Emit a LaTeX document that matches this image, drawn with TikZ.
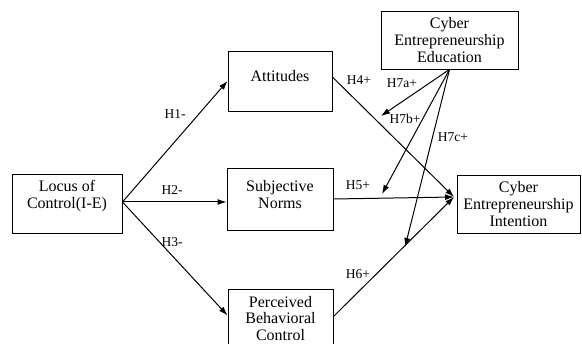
\documentclass[tikz,border=0pt]{standalone}
\usepackage{fontspec}
\setmainfont{Liberation Serif}
\usetikzlibrary{arrows.meta}

\tikzset{
  construct/.style={draw, line width=0.9pt, align=center, inner sep=2pt,
    font=\fontsize{16}{16.8}\selectfont},
  hyp/.style={font=\fontsize{13.5}{15}\selectfont, inner sep=0pt},
  link/.style={line width=1pt, -{Latex[length=9pt,width=6pt]}}
}

\begin{document}
\begin{tikzpicture}[x=1pt, y=-1pt]
    % canvas
    \clip (0,0) rectangle (582,344);
    % constructs
    \node[construct, minimum width=110pt, minimum height=59pt, text depth=20pt] (loc) at (67,204)
    {Locus of\\Control(I-E)};
    \node[construct, minimum width=104pt, minimum height=60pt, text depth=11pt] (att) at (280,81)
    {Attitudes};
    \node[construct, minimum width=106pt, minimum height=62pt, text depth=9pt] (sn) at (280,199)
    {Subjective\\Norms};
    \node[construct, minimum width=105pt, minimum height=59pt] (pbc) at (280.5,318.5)
    {Perceived\\Behavioral\\Control};
    \node[construct, minimum width=137pt, minimum height=58pt] (cee) at (449.5,40)
    {Cyber\\Entrepreneurship\\Education};
    \node[construct, minimum width=123pt, minimum height=58pt] (cei) at (518.5,204)
    {Cyber\\Entrepreneurship\\Intention};
    % end points on the paths
    \coordinate (cei-in)  at (454,197);
    \coordinate (mod-att) at (381,116);
    \coordinate (mod-sn)  at (382,194);
    \coordinate (mod-pbc) at (405,247);
    % locus of control paths
    \draw[link] ([yshift=2pt]loc.east) -- (att.west);
    \draw[link] ([yshift=2pt]loc.east) -- ([yshift=2pt]loc.east -| sn.west);
    \draw[link] ([yshift=2pt]loc.east) -- ([yshift=3pt]pbc.west);
    % paths to intention
    \draw[link] ([yshift=4pt]att.east) -- (cei-in);
    \draw[link] (sn.east)  -- (cei-in);
    \draw[link] ([yshift=2pt]pbc.east) -- (cei-in);
    % moderating paths
    \draw[link] (cee.south) -- (mod-att);
    \draw[link] (cee.south) -- (mod-sn);
    \draw[link] (cee.south) -- (mod-pbc);
    % hypothesis labels
    \node[hyp] (h1)  at (175,114) {H1-};
    \node[hyp] (h2)  at (172,190) {H2-};
    \node[hyp] (h3)  at (172,242) {H3-};
    \node[hyp] (h4)  at (359,80)  {H4+};
    \node[hyp] (h5)  at (358,185) {H5+};
    \node[hyp] (h6)  at (358,274) {H6+};
    \node[hyp] (h7a) at (402,83)  {H7a+};
    \node[hyp] (h7b) at (405,119) {H7b+};
    \node[hyp] (h7c) at (453,137) {H7c+};
\end{tikzpicture}
\end{document}
